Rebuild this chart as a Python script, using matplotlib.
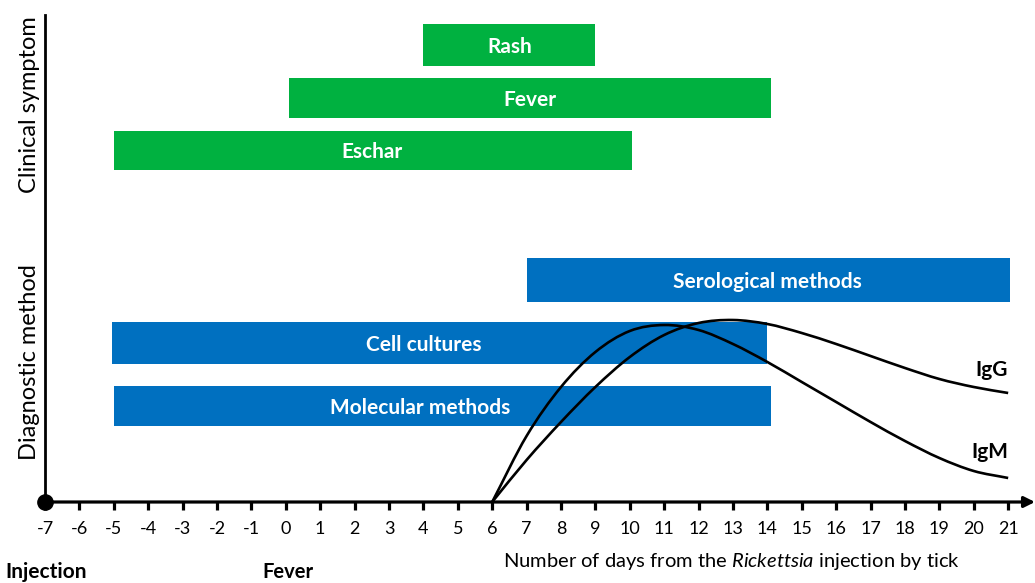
import matplotlib
matplotlib.use("Agg")
import matplotlib.pyplot as plt
from matplotlib.path import Path
from matplotlib.patches import PathPatch
import numpy as np

plt.rcParams['font.family'] = ['Lato', 'DejaVu Sans']
plt.rcParams['mathtext.fontset'] = 'custom'
plt.rcParams['mathtext.rm'] = 'Lato'
plt.rcParams['mathtext.it'] = 'Lato:italic'

# symptom / method windows (days from injection)
symptoms = ["Rash", "Fever", "Eschar"]
symptom_start = [4, 0.1, -5]
symptom_end = [9, 14.1, 10.05]

methods = ["Serological methods", "Cell cultures", "Molecular methods"]
method_start = [7, -5.05, -5]
method_end = [21.05, 14, 14.1]

# antibody curves (relative level, read per day)
days = list(range(6, 22))
igm = [0, 66, 115, 150, 171, 177, 172, 158, 140, 120, 100, 80, 61, 44, 31, 24]
igg = [0, 42, 80, 115, 145, 167, 179, 182, 178, 169, 158, 146, 134, 123, 115, 109]

ticks = list(range(-7, 22))

W, H = 1035, 583
fig = plt.figure(figsize=(W / 100, H / 100), dpi=100)
ax = fig.add_axes([45 / W, 81 / H, 990 / W, 487 / H])
ax.set_xlim(-7, 21.78)
ax.set_ylim(0, 487)
for s in ax.spines.values():
    s.set_visible(False)

green = "#00B140"
blue = "#0070C0"

# lanes and label x positions (layout)
sym_lanes = [(436, 42), (384, 40), (332, 39)]
sym_text_x = [6.5, 7.1, 2.5]
met_lanes = [(200, 44), (138, 42), (76, 40)]
met_text_x = [14.0, 4.0, 3.9]

for name, a, b, (y0, h), tx in zip(symptoms, symptom_start, symptom_end, sym_lanes, sym_text_x):
    ax.barh(y0 + h / 2, b - a, left=a, height=h, color=green, zorder=1)
    ax.text(tx, y0 + h / 2 - 2, name, color="white", fontweight="bold", fontsize=15,
            ha="center", va="center", zorder=3)

for name, a, b, (y0, h), tx in zip(methods, method_start, method_end, met_lanes, met_text_x):
    ax.barh(y0 + h / 2, b - a, left=a, height=h, color=blue, zorder=1)
    ax.text(tx, y0 + h / 2 - 2, name, color="white", fontweight="bold", fontsize=15,
            ha="center", va="center", zorder=3)


def smooth_path(xs, ys):
    p = np.column_stack([xs, ys]).astype(float)
    ext = np.vstack([2 * p[0] - p[1], p, 2 * p[-1] - p[-2]])
    verts = [p[0]]
    codes = [Path.MOVETO]
    for i in range(1, len(ext) - 2):
        c1 = ext[i] + (ext[i + 1] - ext[i - 1]) / 6
        c2 = ext[i + 1] - (ext[i + 2] - ext[i]) / 6
        verts += [c1, c2, ext[i + 1]]
        codes += [Path.CURVE4] * 3
    return Path(verts, codes)


for vals in (igm, igg):
    ax.add_patch(PathPatch(smooth_path(days, vals), fill=False, lw=1.9,
                           edgecolor="black", zorder=4, clip_on=False))

ax.text(21.0, 132, "IgG", fontsize=15, fontweight="bold", ha="right", va="center")
ax.text(21.0, 50, "IgM", fontsize=15, fontweight="bold", ha="right", va="center")

# axes
ax.plot([-7, -7], [0, 487], color="black", lw=2, clip_on=False, zorder=5)
ax.annotate("", xy=(21.78, 0), xytext=(-7, 0),
            arrowprops=dict(arrowstyle="-|>", color="black", lw=2.3,
                            mutation_scale=16, shrinkA=0, shrinkB=0),
            annotation_clip=False, zorder=5)
ax.plot([-7], [0], "o", color="black", ms=11, clip_on=False, zorder=6)

ax.set_xticks(ticks)
ax.set_xticklabels([str(t) for t in ticks])
ax.tick_params(axis="x", direction="out", length=6, width=2.3, pad=8, labelsize=13)
ax.set_yticks([])

fig.text(30 / W, 1 - 105 / H, "Clinical symptom", rotation=90, fontsize=17,
         ha="center", va="center")
fig.text(30 / W, 1 - 362 / H, "Diagnostic method", rotation=90, fontsize=17,
         ha="center", va="center")
fig.text(503 / W, 1 - 562 / H, r"Number of days from the $\mathit{Rickettsia}$ injection by tick",
         fontsize=14.5, ha="left", va="center")
fig.text(5 / W, 1 - 578 / H, "Injection", fontsize=15, fontweight="bold", ha="left", va="baseline")
fig.text(262 / W, 1 - 578 / H, "Fever", fontsize=14.5, fontweight="bold", ha="left", va="baseline")

fig.savefig("out.png", dpi=100)
